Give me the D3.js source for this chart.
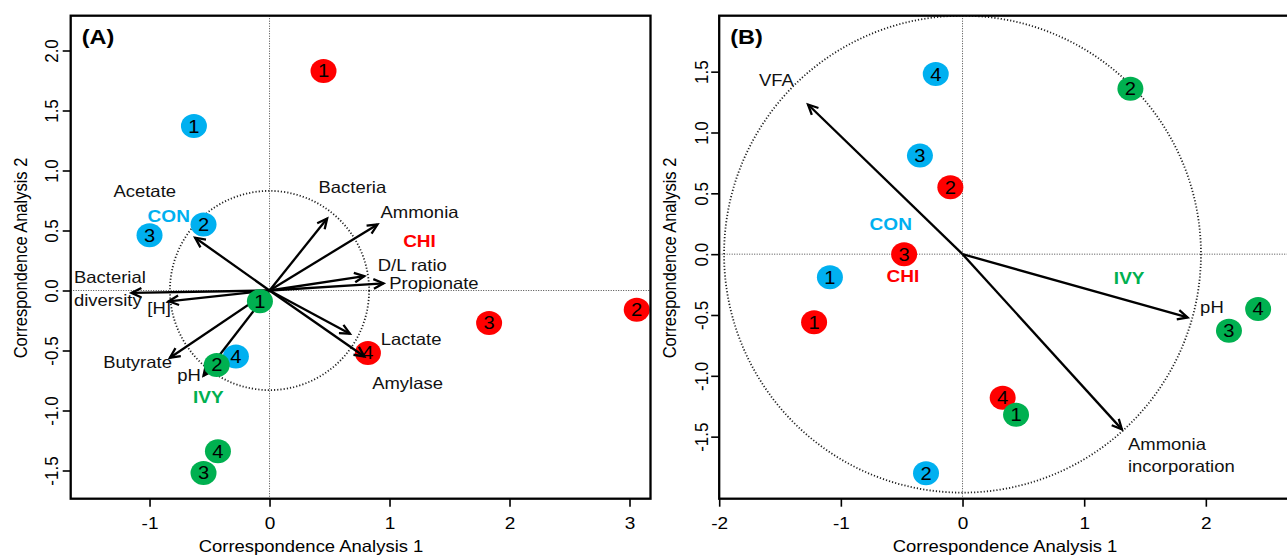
<!DOCTYPE html>
<html lang="en">
<head>
  <meta charset="UTF-8">
  <title>Correspondence Analysis</title>
  <script src="https://d3js.org/d3.v7.min.js"></script>
  <style>
    body { margin: 0; background: #fff; }
    svg text { font-family: Arial, "Liberation Sans", sans-serif; }
  </style>
</head>
<body>
<svg id="chart" width="1287" height="556"></svg>
<script>
  // Treatment colours
  const groupColor = { CON: "#00B0F0", CHI: "#FF0000", IVY: "#00B050" };

  // Panel A - sample scores (group, replicate, CA1, CA2)
  const pointsA = [
    ["CON", 1, -0.63, 1.37], ["CON", 2, -0.55, 0.55], ["CON", 3, -1.00, 0.46], ["CON", 4, -0.28, -0.55],
    ["CHI", 1, 0.45, 1.83], ["CHI", 2, 3.06, -0.16], ["CHI", 3, 1.83, -0.27], ["CHI", 4, 0.82, -0.52],
    ["IVY", 1, -0.08, -0.09], ["IVY", 2, -0.44, -0.62], ["IVY", 3, -0.55, -1.52], ["IVY", 4, -0.43, -1.34]
  ];
  // Panel A - variable arrows (tip) and their labels
  const arrowsA = [
    ["Acetate", -0.62, 0.44], ["Bacteria", 0.48, 0.60], ["Ammonia", 0.90, 0.55],
    ["D/L ratio", 0.79, 0.12], ["Propionate", 0.95, 0.06], ["Bacterial diversity", -1.15, -0.02],
    ["[H]", -0.84, -0.09], ["Butyrate", -0.83, -0.56], ["pH", -0.55, -0.71],
    ["Lactate", 0.67, -0.36], ["Amylase", 0.79, -0.55]
  ];
  const labelsA = [
    ["Acetate", -1.04, 0.83, "middle"], ["Bacteria", 0.69, 0.86, "middle"], ["Ammonia", 1.25, 0.65, "middle"],
    ["D/L ratio", 1.19, 0.21, "middle"], ["Propionate", 1.37, 0.06, "middle"],
    ["Bacterial", -1.63, 0.11, "start"], ["diversity", -1.63, -0.085, "start"],
    ["[H]", -0.92, -0.15, "middle"], ["Butyrate", -1.10, -0.60, "middle"], ["pH", -0.67, -0.71, "middle"],
    ["Lactate", 1.18, -0.41, "middle"], ["Amylase", 1.15, -0.77, "middle"]
  ];
  const groupLabelsA = [["CON", -0.84, 0.62], ["CHI", 1.25, 0.41], ["IVY", -0.51, -0.89]];

  // Panel B
  const pointsB = [
    ["CON", 1, -1.09, -0.19], ["CON", 2, -0.30, -1.80], ["CON", 3, -0.35, 0.81], ["CON", 4, -0.22, 1.48],
    ["CHI", 1, -1.22, -0.56], ["CHI", 2, -0.10, 0.55], ["CHI", 3, -0.48, 0.00], ["CHI", 4, 0.33, -1.18],
    ["IVY", 1, 0.44, -1.32], ["IVY", 2, 1.38, 1.36], ["IVY", 3, 2.19, -0.63], ["IVY", 4, 2.43, -0.45]
  ];
  const arrowsB = [["VFA", -1.27, 1.23], ["pH", 1.85, -0.52], ["Ammonia incorporation", 1.31, -1.44]];
  const labelsB = [
    ["VFA", -1.53, 1.43, "middle"], ["pH", 2.05, -0.44, "middle"],
    ["Ammonia", 1.36, -1.56, "start"], ["incorporation", 1.36, -1.745, "start"]
  ];
  const groupLabelsB = [["CON", -0.59, 0.25], ["CHI", -0.49, -0.18], ["IVY", 1.37, -0.20]];

  const ticksA = { x: [-1, 0, 1, 2, 3], y: [-1.5, -1, -0.5, 0, 0.5, 1, 1.5, 2] };
  const ticksB = { x: [-2, -1, 0, 1, 2], y: [-1.5, -1, -0.5, 0, 0.5, 1, 1.5] };

  const stretch = 1.12; // the figure is a little wider than tall
  const svg = d3.select("#chart");
  const minus = v => (v < 0 ? "-" : "");

  // place a text at (px, py) with the horizontal stretch applied
  function place(sel, px, py, rot) {
    return sel.attr("x", 0).attr("y", 0)
      .attr("transform", `translate(${px},${py}) scale(${stretch},1)${rot ? " rotate(" + rot + ")" : ""}`);
  }

  function panel(cfg) {
    const x = d3.scaleLinear().domain(cfg.xDomain).range(cfg.xRange);
    const y = d3.scaleLinear().domain(cfg.yDomain).range(cfg.yRange);
    const g = svg.append("g");
    const clipId = "clip" + cfg.tag;

    g.append("clipPath").attr("id", clipId).append("rect")
      .attr("x", cfg.xRange[0]).attr("y", cfg.yRange[1])
      .attr("width", cfg.xRange[1] - cfg.xRange[0]).attr("height", cfg.yRange[0] - cfg.yRange[1]);

    const plot = g.append("g").attr("clip-path", `url(#${clipId})`);

    // zero lines
    plot.append("line")
      .attr("x1", x(0)).attr("x2", x(0)).attr("y1", cfg.yRange[1]).attr("y2", cfg.yRange[0])
      .attr("stroke", "#333").attr("stroke-width", 0.9).attr("stroke-dasharray", "1,1.5");
    plot.append("line")
      .attr("x1", cfg.xRange[0]).attr("x2", cfg.xRange[1]).attr("y1", y(0)).attr("y2", y(0))
      .attr("stroke", "#333").attr("stroke-width", 0.9).attr("stroke-dasharray", "1,1.5");

    // correlation circle
    plot.append("ellipse")
      .attr("cx", x(0)).attr("cy", y(0))
      .attr("rx", x(cfg.radius) - x(0)).attr("ry", y(0) - y(cfg.radius))
      .attr("fill", "none").attr("stroke", "#222").attr("stroke-width", 1.8)
      .attr("stroke-dasharray", "1.2,2");

    const drawPoints = rows => {
      const pg = plot.selectAll(null).data(rows).join("g")
        .attr("transform", d => `translate(${x(d[2])},${y(d[3])})`);
      pg.append("ellipse").attr("rx", 13).attr("ry", 12).attr("fill", d => groupColor[d[0]]);
      pg.append("text").attr("text-anchor", "middle").attr("dy", "0.36em")
        .attr("font-size", 18).attr("fill", "#000")
        .attr("transform", `scale(${stretch},1)`).text(d => d[1]);
    };

    drawPoints(cfg.points.filter(d => d[0] !== "IVY"));

    // arrows with open heads
    const head = 11, ang = Math.PI / 7;
    cfg.arrows.forEach(a => {
      const x0 = x(0), y0 = y(0), x1 = x(a[1]), y1 = y(a[2]);
      const th = Math.atan2(y1 - y0, x1 - x0);
      plot.append("line").attr("x1", x0).attr("y1", y0).attr("x2", x1).attr("y2", y1)
        .attr("stroke", "#000").attr("stroke-width", 2.3);
      plot.append("path")
        .attr("d", `M${x1 - head * Math.cos(th - ang)},${y1 - head * Math.sin(th - ang)}L${x1},${y1}L${x1 - head * Math.cos(th + ang)},${y1 - head * Math.sin(th + ang)}`)
        .attr("fill", "none").attr("stroke", "#000").attr("stroke-width", 2.3);
    });

    drawPoints(cfg.points.filter(d => d[0] === "IVY"));

    plot.selectAll(null).data(cfg.labels).join("text")
      .attr("dy", "0.35em").attr("text-anchor", d => d[3]).attr("font-size", 16.5).attr("fill", "#111")
      .text(d => d[0])
      .each(function(d) { place(d3.select(this), x(d[1]), y(d[2])); });

    plot.selectAll(null).data(cfg.groupLabels).join("text")
      .attr("dy", "0.35em").attr("text-anchor", "middle").attr("font-size", 17).attr("font-weight", "bold")
      .attr("fill", d => groupColor[d[0]]).text(d => d[0])
      .each(function(d) { place(d3.select(this), x(d[1]), y(d[2])); });

    place(plot.append("text"), cfg.xRange[0] + 11, cfg.yRange[1] + 28)
      .attr("font-size", 21).attr("font-weight", "bold").text(cfg.title);

    // frame
    g.append("rect")
      .attr("x", cfg.xRange[0]).attr("y", cfg.yRange[1])
      .attr("width", cfg.xRange[1] - cfg.xRange[0]).attr("height", cfg.yRange[0] - cfg.yRange[1])
      .attr("fill", "none").attr("stroke", "#000").attr("stroke-width", 2.3);

    // axes
    const gx = g.append("g").attr("transform", `translate(0,${cfg.yRange[0]})`)
      .call(d3.axisBottom(x).tickValues(cfg.ticks.x).tickSize(8));
    gx.select(".domain").remove();
    gx.selectAll("line").attr("stroke", "#000").attr("stroke-width", 1.6);
    gx.selectAll("text").attr("font-size", 17).attr("fill", "#000").attr("dy", "0.35em")
      .each(function(d) {
        place(d3.select(this), 0, 523 - cfg.yRange[0]).text(minus(d) + Math.abs(d));
      });

    const gy = g.append("g").attr("transform", `translate(${cfg.xRange[0]},0)`)
      .call(d3.axisLeft(y).tickValues(cfg.ticks.y).tickSize(8));
    gy.select(".domain").remove();
    gy.selectAll("line").attr("stroke", "#000").attr("stroke-width", 1.6);
    gy.selectAll("text").attr("font-size", 17).attr("fill", "#000")
      .attr("text-anchor", "middle").attr("dy", "0.35em")
      .each(function(d) {
        place(d3.select(this), cfg.yTickX - cfg.xRange[0], 0, -90)
          .text(minus(d) + d3.format(".1f")(Math.abs(d)));
      });

    place(g.append("text"), cfg.xLabelX, 546).attr("dy", "0.35em")
      .attr("text-anchor", "middle").attr("font-size", 16.5).text("Correspondence Analysis 1");
    place(g.append("text"), cfg.yLabelX, 258, -90).attr("dy", "0.35em")
      .attr("text-anchor", "middle").attr("font-size", 16.5).text("Correspondence Analysis 2");
  }

  panel({
    tag: "A", title: "(A)",
    xDomain: [-1.657, 3.175], xRange: [70.7, 650.5],
    yDomain: [-1.735, 2.29], yRange: [498.7, 15.7],
    radius: 0.83, points: pointsA, arrows: arrowsA, labels: labelsA, groupLabels: groupLabelsA,
    ticks: ticksA, yTickX: 51, xLabelX: 311, yLabelX: 21
  });

  panel({
    tag: "B", title: "(B)",
    xDomain: [-2, 2.7], xRange: [719.2, 1291],
    yDomain: [-2.01, 1.96], yRange: [498.7, 15.7],
    radius: 1.96, points: pointsB, arrows: arrowsB, labels: labelsB, groupLabels: groupLabelsB,
    ticks: ticksB, yTickX: 701, xLabelX: 1005, yLabelX: 670
  });
</script>
</body>
</html>
